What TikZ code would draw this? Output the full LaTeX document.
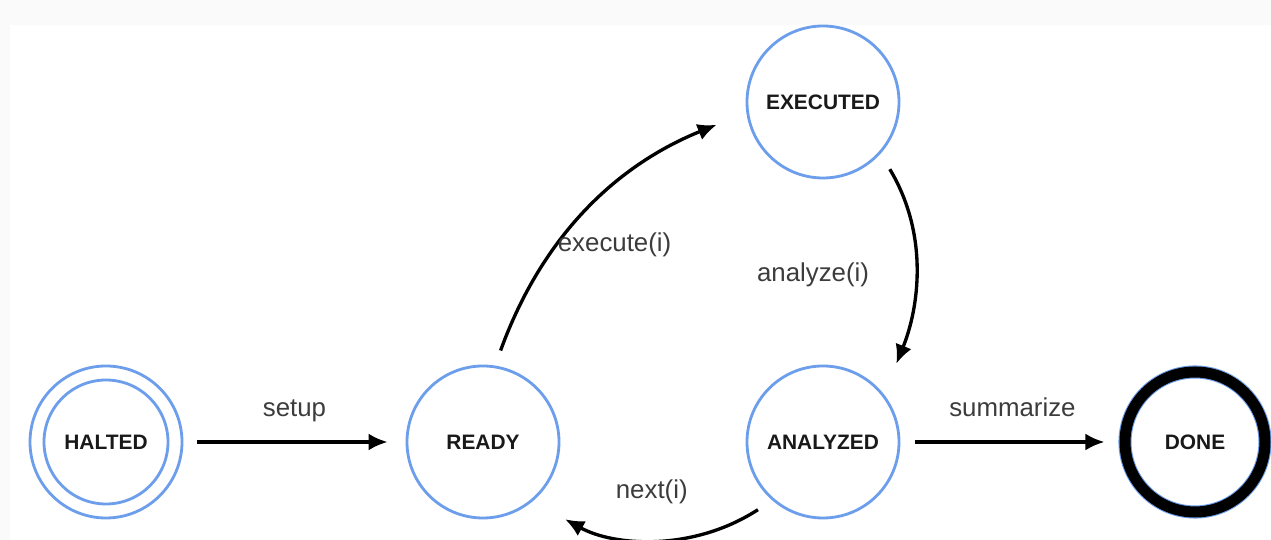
\documentclass[tikz,border=0pt]{standalone}
\usepackage{fontspec}
\setmainfont{Liberation Sans}
\usepackage{tikz}
\usetikzlibrary{
  automata,
  positioning,
  arrows.meta
}

\definecolor{stateblue}{RGB}{109,158,235}
\definecolor{labelgray}{RGB}{60,60,60}

\tikzset{
  every state/.style={draw=stateblue, line width=1.6pt, minimum size=3.04cm,
    inner sep=0pt, text=black!90, font=\fontsize{11.9}{14}\selectfont\bfseries},
  finished/.style={state, double=black, double distance=0.22cm,
    line width=0.6pt, minimum size=2.8cm},
  trans/.style={-{Latex[length=0.38cm,width=0.34cm]}, line width=1.9pt, black},
  lbl/.style={font=\fontsize{14.7}{17}\selectfont, text=labelgray, inner sep=0pt}
}

\begin{document}
\begin{tikzpicture}[node distance = 6.8cm, on grid]
    \useasboundingbox (0,0) rectangle (25.42,10.8);
    \fill[black!2] (0,0) rectangle (25.42,10.8);
    \fill[white] (0.2,0) rectangle (25.42,10.3);

    \node[state] (halted) at (2.12,1.96) {HALTED};
    \node[state, right = 7.54cm of halted] (ready) {READY};
    \node[state, right = of ready] (analyzed) {ANALYZED};
    \node[state, above = of analyzed] (executed) {EXECUTED};
    \node[finished, right = 7.44cm of analyzed] (done) {DONE};
    \draw[stateblue, line width=1.6pt] (halted.center) circle[radius=1.24cm];

    \path (halted) edge[trans, shorten <=0.28cm, shorten >=0.36cm]
        node[lbl, anchor=base, yshift=0.5cm] {setup} (ready);
    \path (analyzed) edge[trans, shorten <=0.3cm, shorten >=0.4cm]
        node[lbl, anchor=base, yshift=0.5cm] {summarize} (done);

    % the cycle ready -> executed -> analyzed -> ready
    \path (ready.81) edge[trans, out=70, in=202, shorten <=0.32cm, shorten >=0.64cm]
        node[lbl, pos=0.35, anchor=base west, yshift=-0.06cm] {execute(i)} (executed.188);
    \path (executed.-42) edge[trans, out=-59, in=68, shorten <=0.36cm, shorten >=0.66cm]
        node[lbl, anchor=base east, xshift=-0.86cm, yshift=-0.2cm] {analyze(i)} (analyzed.38);
    \path (analyzed.-131) edge[trans, out=-147, in=-29, shorten <=0.34cm, shorten >=0.74cm]
        node[lbl, anchor=base, xshift=-0.04cm, yshift=0.78cm] {next(i)} (ready.-50);
\end{tikzpicture}
\end{document}
